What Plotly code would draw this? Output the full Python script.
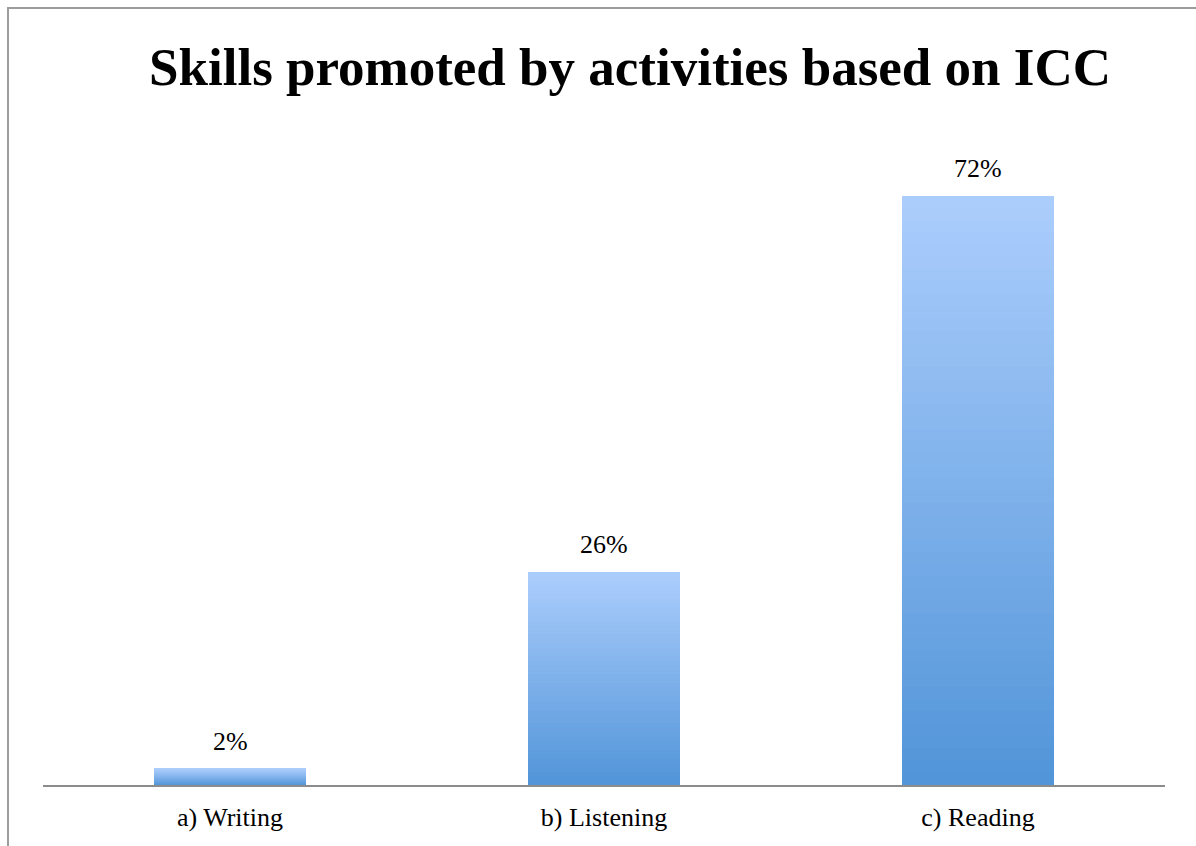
import plotly.graph_objects as go

# ---- data ----
categories = ["a) Writing", "b) Listening", "c) Reading"]
values = [2, 26, 72]
value_labels = ["2%", "26%", "72%"]
title_text = "Skills promoted by activities based on ICC"

# ---- style ----
FONT = "Liberation Serif"
color_bottom = (82, 149, 217)
color_top = (171, 205, 252)
N_STEPS = 48

fig = go.Figure()

# gradient-filled bars: each bar is split into equal stacked slices of its own value
for k in range(N_STEPS):
    t = k / (N_STEPS - 1)
    rgb = tuple(round(color_bottom[i] + (color_top[i] - color_bottom[i]) * t) for i in range(3))
    fig.add_trace(go.Bar(
        x=categories,
        y=[v / N_STEPS for v in values],
        marker=dict(color="rgb(%d,%d,%d)" % rgb, line=dict(width=0)),
        hoverinfo="skip",
        showlegend=False,
    ))

for cat, v, lab in zip(categories, values, value_labels):
    fig.add_annotation(
        x=cat, y=v, text=lab, showarrow=False, yanchor="bottom", yshift=11,
        font=dict(family=FONT, size=26, color="#000000"),
    )

# chart frame (left & top edges visible)
fig.add_shape(type="rect", xref="paper", yref="paper",
              x0=(8 - 43) / 1122, x1=1.3, y0=-0.3, y1=(785 - 8) / 655,
              line=dict(color="#9c9c9c", width=2), fillcolor="rgba(0,0,0,0)", layer="below")

fig.update_layout(
    width=1196, height=846,
    margin=dict(l=43, r=31, t=130, b=61),
    paper_bgcolor="white", plot_bgcolor="white",
    barmode="stack", bargap=0.596,
    title=dict(text="<b>" + title_text + "</b>", x=630 / 1196, xanchor="center",
               y=1 - 66 / 846, yanchor="middle",
               font=dict(family=FONT, size=53, color="#000000")),
    xaxis=dict(showline=True, linecolor="#8c8c8c", linewidth=2, ticks="",
               showgrid=False, zeroline=False, ticklabelstandoff=8,
               tickfont=dict(family=FONT, size=26, color="#000000")),
    yaxis=dict(range=[0, 80], visible=False, showgrid=False, zeroline=False),
)

fig.write_html("out.html")
